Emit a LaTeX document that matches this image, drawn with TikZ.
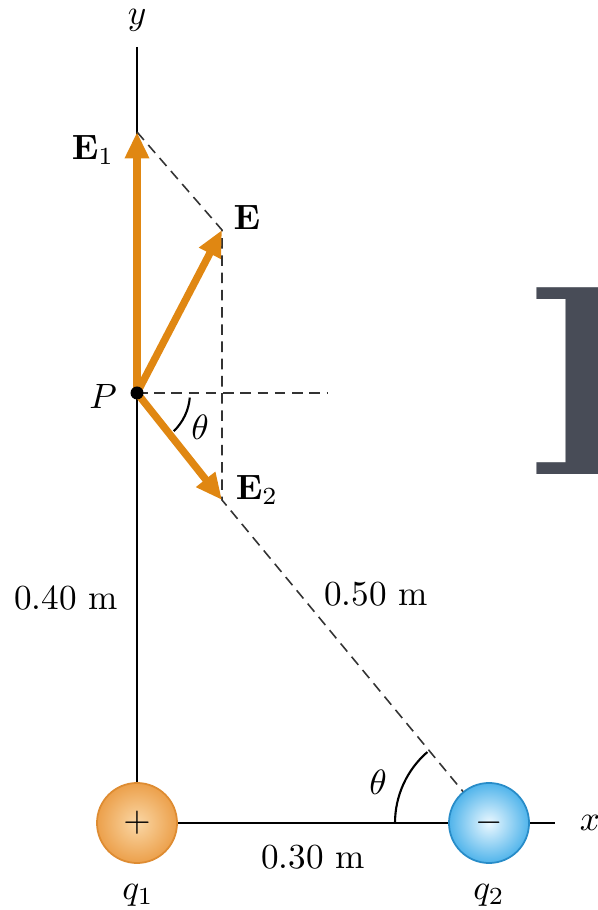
\documentclass[tikz,border=0pt]{standalone}
\usetikzlibrary{arrows.meta}
\definecolor{vecorange}{RGB}{224,135,18}
\definecolor{slate}{RGB}{72,76,87}
\tikzset{
  field/.style={vecorange,line width=2.1pt,-{Triangle[length=7.5pt,width=6.5pt]}},
  guide/.style={black!80,dash pattern=on 3pt off 1.9pt,line width=0.45pt},
  axis/.style={line width=0.6pt},
  charge/.style={circle,minimum size=0.8cm,inner sep=0pt,line width=0.5pt},
}
\begin{document}
\begin{tikzpicture}[x=0.01cm,y=0.01cm]
\useasboundingbox (0,0) rectangle (597,910);
\node[anchor=base west,inner sep=0pt,text=slate,font=\bfseries\fontsize{78}{78}\selectfont] (bigE) at (526,435) {E};
\coordinate (P) at (137,517);
\coordinate (e1) at (137,778);
\coordinate (e) at (222,680);
\coordinate (e2) at (222,410);
\coordinate (ytop) at (137,863);
\coordinate (xend) at (555,87);
\coordinate (hend) at (328,517);
\coordinate (c1) at (137,87);
\coordinate (c2) at (489,87);
\draw[axis] (ytop) -- (c1) -- (xend);
\node[charge,draw={rgb,255:red,222;green,140;blue,50},inner color={rgb,255:red,250;green,215;blue,165},outer color={rgb,255:red,236;green,160;blue,75}] (q1) at (c1) {$+$};
\node[charge,draw={rgb,255:red,40;green,140;blue,200},inner color={rgb,255:red,235;green,248;blue,255},outer color={rgb,255:red,80;green,180;blue,235}] (q2) at (c2) {$-$};
\draw[guide] (e1) -- (e) -- (e2) -- (q2);
\draw[guide] (P) -- (hend);
\draw[axis] (P) ++(-5:53) arc[start angle=-5,end angle=-46,radius=53];
\draw[axis] (c2) ++(180:94) arc[start angle=180,end angle=131,radius=94];
\draw[field] (P) -- (e1);
\draw[field] (P) -- (e);
\draw[field] (P) -- (e2);
\fill (P) circle (6.5);
\node at (137,890) {$y$};
\node at (590,87) {$x$};
\node at (93,760) {$\mathbf{E}_1$};
\node at (247,693) {$\mathbf{E}$};
\node at (257,420) {$\mathbf{E}_2$};
\node at (103,514) {$P$};
\node at (200,483) {$\theta$};
\node at (378,128) {$\theta$};
\node at (66,312) {0.40 m};
\node at (376,316) {0.50 m};
\node at (313,53) {0.30 m};
\node at (138,15) {$q_1$};
\node at (489,15) {$q_2$};
\end{tikzpicture}
\end{document}
